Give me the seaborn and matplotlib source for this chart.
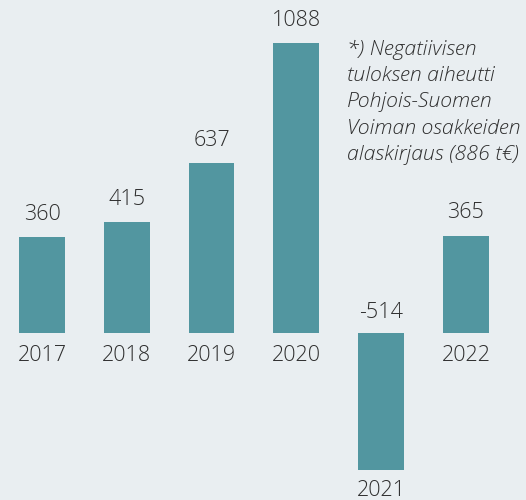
import matplotlib
matplotlib.use("Agg")
import matplotlib.pyplot as plt
import seaborn as sns
import pandas as pd

# chart data
years = ["2017", "2018", "2019", "2020", "2021", "2022"]
values = [360, 415, 637, 1088, -514, 365]
note_lines = [
    "*) Negatiivisen",
    "tuloksen aiheutti",
    "Pohjois-Suomen",
    "Voiman osakkeiden",
    "alaskirjaus (886 t€)",
]

BG = "#e9eef1"
BAR = "#5296a0"
TXT = "#2e2e2e"

sns.set_theme(style="white")
plt.rcParams["font.family"] = ["Open Sans", "DejaVu Sans"]

df = pd.DataFrame({"year": years, "value": values})

fig = plt.figure(figsize=(5.26, 5.0), dpi=100, facecolor=BG)
ax = fig.add_axes([0, 0, 1, 1])
ax.set_facecolor(BG)

sns.barplot(data=df, x="year", y="value", order=years, color=BAR,
            saturation=1, width=0.54, linewidth=0, ax=ax)

ax.set_xlim(-0.495, 5.708)
ax.set_ylim(-626.6, 1249.5)
ax.axis("off")

# px -> data units on y
px = (1249.5 + 626.6) / 500.0
fs = 15.5
for i, (yr, v) in enumerate(zip(years, values)):
    if v >= 0:
        ax.text(i, v + 23 * px, str(v), ha="center", va="center",
                fontsize=fs, color=TXT, weight="light")
        ax.text(i, -22 * px, yr, ha="center", va="center",
                fontsize=fs, color=TXT, weight="light")
    else:
        ax.text(i, 21 * px, str(v), ha="center", va="center",
                fontsize=fs, color=TXT, weight="light")
        ax.text(i, v - 21 * px, yr, ha="center", va="center",
                fontsize=fs, color=TXT, weight="light")

ax.text(347 / 526, 1 - 40 / 500, "\n".join(note_lines), transform=ax.transAxes,
        ha="left", va="top", fontsize=15.3, style="italic", color=TXT,
        weight="light", linespacing=1.41)

fig.savefig("out.png", dpi=100, facecolor=BG)
